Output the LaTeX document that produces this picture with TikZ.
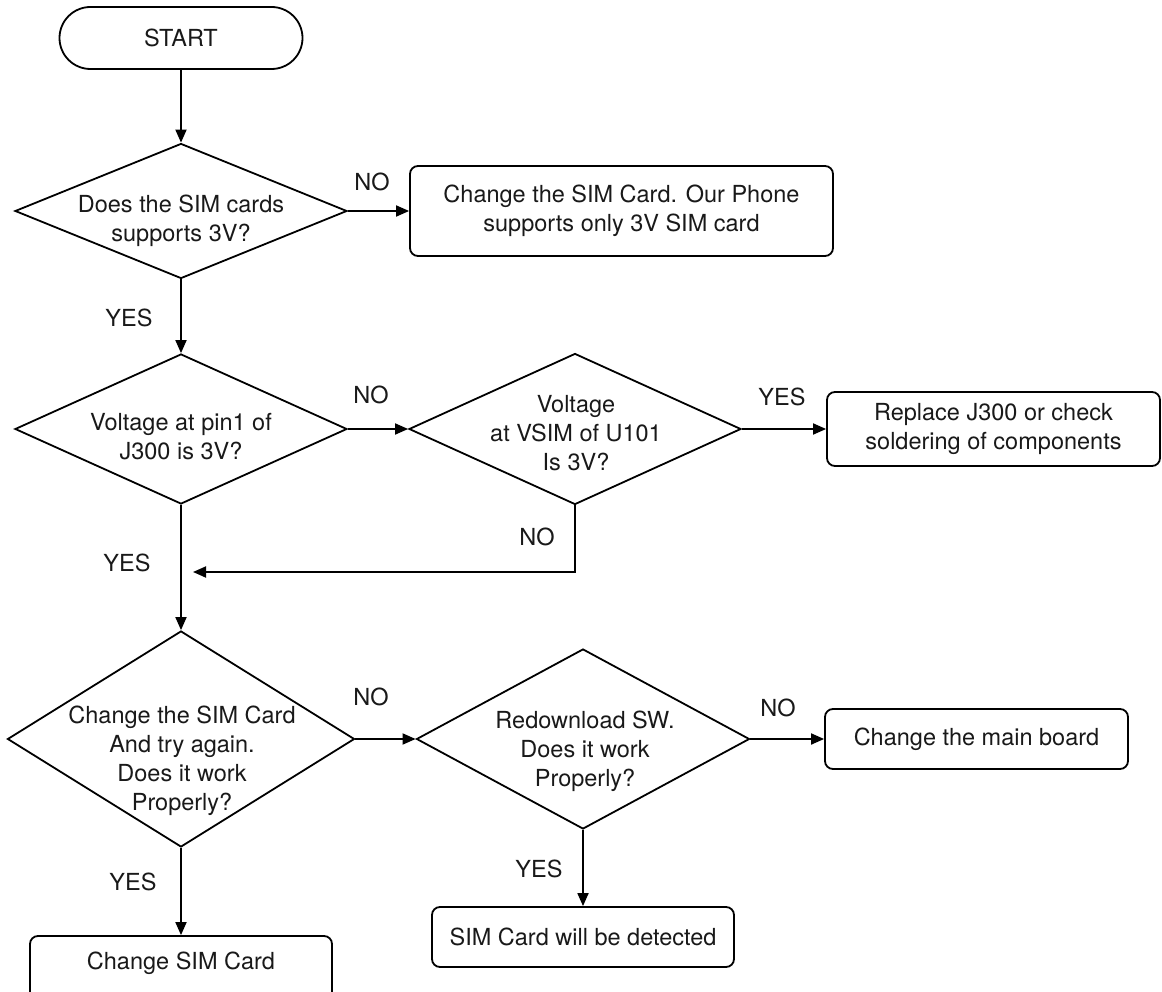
\documentclass[tikz,border=0pt]{standalone}
\usepackage{fontspec}
\setmainfont{TeX Gyre Heros}
\usetikzlibrary{shapes.geometric,arrows.meta}
\begin{document}
\begin{tikzpicture}[x=1pt,y=-1pt,
  every node/.style={font=\fontsize{23.5}{29}\selectfont, text=black!90},
  dec/.style={shape=diamond, draw, line width=1.8pt, inner sep=0pt},
  box/.style={shape=rectangle, draw, line width=1.8pt, rounded corners=8pt, inner sep=0pt, align=center},
  txt/.style={align=center, inner sep=0pt},
  lbl/.style={inner sep=0pt},
  arr/.style={line width=1.8pt, -{Triangle[length=13pt,width=11pt]}},
  ln/.style={line width=1.8pt}]
\useasboundingbox (0,0) rectangle (1162,992);
\clip (0,0) rectangle (1162,992);
% start
\node[box, rounded corners=31pt, minimum width=243pt, minimum height=62pt] (start) at (181,38) {START};
% decisions
\node[dec, minimum width=332pt, minimum height=135pt] (d1) at (181,211) {};
\node[txt] (t1) at (181,221) {Does the SIM cards\\supports 3V?};
\node[dec, minimum width=332pt, minimum height=150pt] (d2) at (181,429) {};
\node[txt] (t2) at (181,437) {Voltage at pin1 of\\J300 is 3V?};
\node[dec, minimum width=332pt, minimum height=151pt] (d3) at (575,429) {};
\node[txt] (t3) at (576,433) {Voltage\\at VSIM of U101\\Is 3V?};
\node[dec, minimum width=347pt, minimum height=216pt] (d4) at (181,739) {};
\node[txt] (t4) at (182,761) {Change the SIM Card\\And try again.\\Does it work\\Properly?};
\node[dec, minimum width=333pt, minimum height=180pt] (d5) at (583,739) {};
\node[txt] (t5) at (585,751) {Redownload SW.\\Does it work\\Properly?};
% boxes
\node[box, minimum width=423pt, minimum height=90pt] (b1) at (621.5,211) {Change the SIM Card. Our Phone\\supports only 3V SIM card};
\node[box, minimum width=333pt, minimum height=74pt] (b2) at (993.5,429) {Replace J300 or check\\soldering of components};
\node[box, minimum width=303pt, minimum height=60pt] (b3) at (976.5,739) {Change the main board};
\node[box, minimum width=302pt, minimum height=60pt] (b4) at (583,937) {SIM Card will be detected};
\node[box, minimum width=302pt, minimum height=64pt] (b5) at (181,968) {};
\node[txt] (t6) at (181,963) {Change SIM Card};
\coordinate (join) at (193,572);
% connectors
\draw[arr] (start.south) -- (d1.north);
\draw[arr] (d1.east) -- (b1.west);
\draw[arr] (d1.south) -- (d2.north);
\draw[arr] (d2.east) -- (d3.west);
\draw[arr] (d3.east) -- (b2.west);
\draw[arr] (d3.south) |- (join);
\draw[arr] (d2.south) -- (d4.north);
\draw[arr] (d4.east) -- (d5.west);
\draw[arr] (d5.east) -- (b3.west);
\draw[arr] (d5.south) -- (b4.north);
\draw[arr] (d4.south) -- (b5.north);
% labels
\node[lbl] (l1) at (372,182) {NO};
\node[lbl] (l2) at (129,318) {YES};
\node[lbl] (l3) at (371,395) {NO};
\node[lbl] (l4) at (782,397) {YES};
\node[lbl] (l5) at (537,537) {NO};
\node[lbl] (l6) at (127,563) {YES};
\node[lbl] (l7) at (371,697) {NO};
\node[lbl] (l8) at (778,708) {NO};
\node[lbl] (l9) at (539,869) {YES};
\node[lbl] (l10) at (133,882) {YES};
\end{tikzpicture}
\end{document}
